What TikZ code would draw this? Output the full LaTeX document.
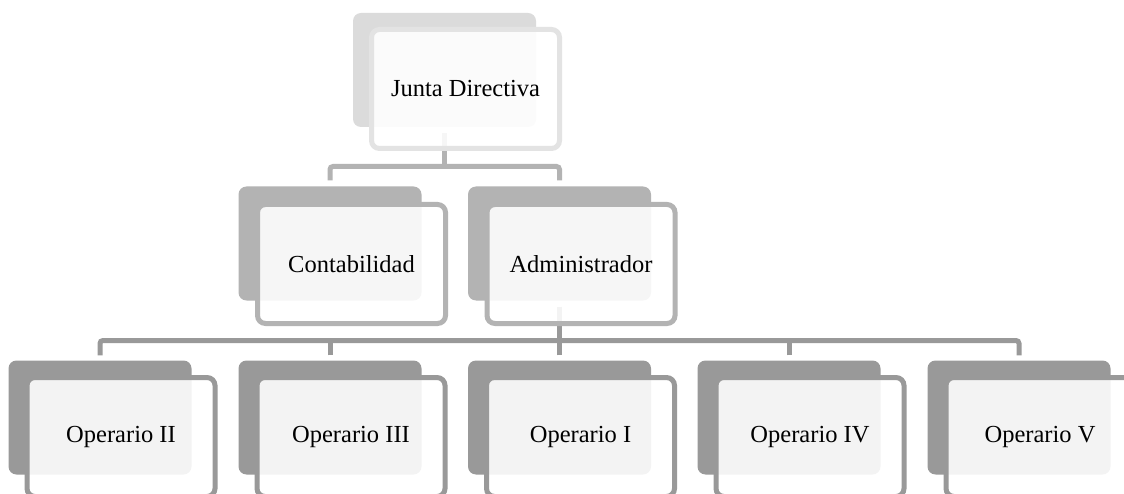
\documentclass[tikz,border=0pt]{standalone}
\usepackage{fontspec}
\setmainfont{Liberation Serif}
\definecolor{lvA}{HTML}{DBDBDB}
\definecolor{lvAo}{HTML}{E3E3E3}
\definecolor{lvB}{HTML}{B3B3B3}
\definecolor{lvC}{HTML}{999999}
\begin{document}
\begin{tikzpicture}[x=1pt,y=-1pt,
  back/.style={rectangle, rounded corners=8pt, minimum width=183pt, minimum height=114pt, inner sep=0pt, draw=none, fill=#1},
  front/.style={rectangle, rounded corners=8pt, minimum width=188pt, minimum height=119pt, inner sep=0pt, line width=5pt, draw=#1, fill=white, fill opacity=0.89, text opacity=1, font=\fontsize{24.5}{29}\selectfont},
  conn/.style={line width=5pt, draw=#1, rounded corners=3pt},
]
\useasboundingbox (0,0) rectangle (1124,494);
\fill[white] (0,0) rectangle (1124,494);
\clip (0,0) rectangle (1124,494);
% back plates
\node[back=lvA] (jdb) at (444.5,70) {};
\node[back=lvB] (contb) at (330,243.5) {};
\node[back=lvB] (admb) at (559.5,243.5) {};
\node[back=lvC] (op2b) at (100,417.5) {};
\node[back=lvC] (op3b) at (330,417.5) {};
\node[back=lvC] (op1b) at (559.5,417.5) {};
\node[back=lvC] (op4b) at (789,417.5) {};
\node[back=lvC] (op5b) at (1019,417.5) {};
% connectors
\coordinate (bus1) at (444.5,166.5);
\draw[conn=lvB] ([yshift=-6pt]jdb.south) -- (bus1);
\draw[conn=lvB] ([yshift=6pt]contb.north) |- (bus1) -| ([yshift=6pt]admb.north);
\coordinate (bus2) at (559.5,340.5);
\draw[conn=lvC] ([yshift=-6pt]admb.south) -- (bus2);
\draw[conn=lvC] ([yshift=5pt]op2b.north) |- (bus2) -| ([yshift=5pt]op5b.north);
\draw[conn=lvC] ([yshift=5pt]op3b.north) -- (op3b.north |- bus2);
\draw[conn=lvC] ([yshift=5pt]op1b.north) -- (op1b.north |- bus2);
\draw[conn=lvC] ([yshift=5pt]op4b.north) -- (op4b.north |- bus2);
% front boxes
\node[front=lvAo] (jd) at (465.5,89) {Junta Directiva};
\node[front=lvB] (cont) at (351.5,264) {Contabilidad};
\node[front=lvB] (adm) at (581,264) {Administrador};
\node[front=lvC] (op2) at (121,437) {Operario II\hspace{18pt}};
\node[front=lvC] (op3) at (351,437) {Operario III};
\node[front=lvC] (op1) at (580.5,437) {Operario I};
\node[front=lvC] (op4) at (810,437) {Operario IV};
\node[front=lvC] (op5) at (1040,437) {Operario V};
\end{tikzpicture}
\end{document}
